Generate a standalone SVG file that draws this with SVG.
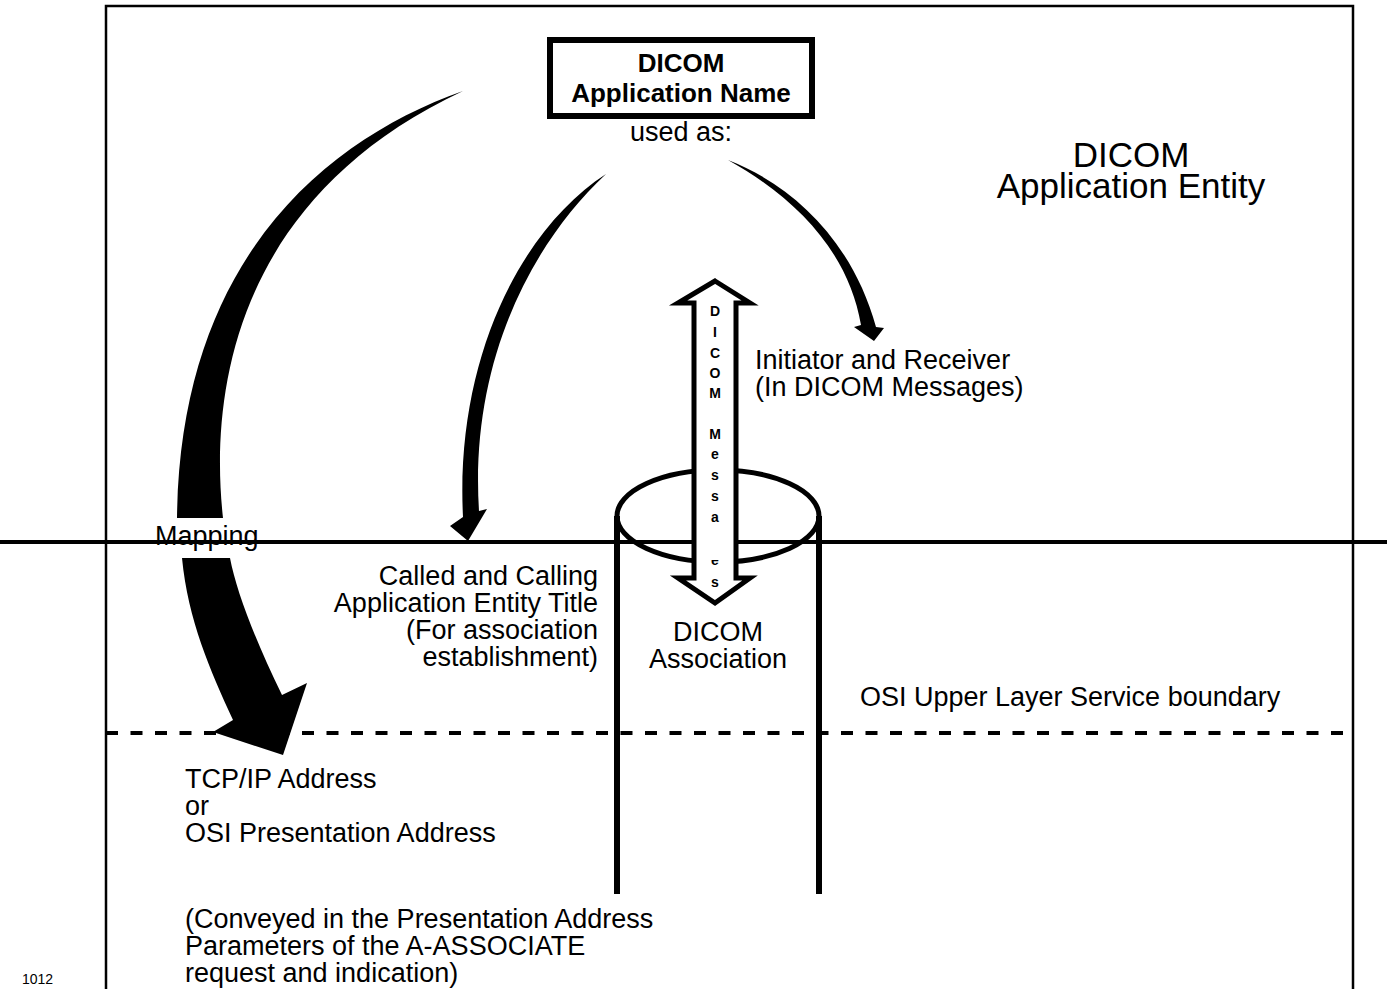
<svg xmlns="http://www.w3.org/2000/svg" width="1387" height="989" viewBox="0 0 1387 989">
<style>
text{font-family:"Liberation Sans",Arial,sans-serif;fill:#000}
.t{font-size:27px}
.b{font-size:26px;font-weight:bold}
.v{font-size:14px;font-weight:bold;text-anchor:middle}
.blk{fill:#000;stroke:none}
</style>
<rect x="0" y="0" width="1387" height="989" fill="#fff"/>
<g id="frame">
<path d="M106,989 V6 H1353 V989" fill="none" stroke="#000" stroke-width="2.5"/>
</g>
<g id="connectors">
<path id="arrow-mapping-upper" class="blk" d="M463,91 C325,140 180,260 177,518 L223,518 C210,400 230,200 463,91 Z"/>
<path id="arrow-mapping-lower" class="blk" d="M182,558 L230,558 C236,590 255,640 282,695 L307,683 L283,755 L213,732 L233,720 C210,670 188,620 182,558 Z"/>
<path id="arrow-called" class="blk" d="M606,174 C520,230 455,360 463,517 L450,526 L468,541 L487,509 L479,511 C470,370 525,250 606,174 Z"/>
<path id="arrow-initiator" class="blk" d="M728,160 C792,185 852,240 876,327 L884,328 L874,341 L854,327 L861,325 C849,255 800,200 728,160 Z"/>
</g>
<g id="boundary-dashed">
<line x1="106" y1="733" x2="1353" y2="733" stroke="#000" stroke-width="4" stroke-dasharray="12 12.5"/>
</g>
<g id="association">
<line x1="617" y1="516" x2="617" y2="894" stroke="#000" stroke-width="6"/>
<line x1="819" y1="516" x2="819" y2="894" stroke="#000" stroke-width="6"/>
<ellipse cx="718" cy="516" rx="101" ry="46" fill="none" stroke="#000" stroke-width="5"/>
</g>
<g id="mapping-label">
<rect x="168" y="519" width="75" height="38" fill="#fff"/>
<text class="t" x="155" y="545">Mapping</text>
</g>
<line id="osi-boundary-solid" x1="0" y1="542" x2="1387" y2="542" stroke="#000" stroke-width="4"/>
<g id="messages-arrow">
<polygon points="715,281 750,303 736,303 736,578 750,578 715,603 678,578 694,578 694,303 678,303" fill="#fff" stroke="#000" stroke-width="5" stroke-linejoin="miter"/>
<text class="v"><tspan x="715" y="316">D</tspan><tspan x="715" y="337">I</tspan><tspan x="715" y="358">C</tspan><tspan x="715" y="378">O</tspan><tspan x="715" y="398">M</tspan><tspan x="715" y="439">M</tspan><tspan x="715" y="459">e</tspan><tspan x="715" y="480">s</tspan><tspan x="715" y="501">s</tspan><tspan x="715" y="522">a</tspan><tspan x="715" y="543">g</tspan><tspan x="715" y="565">e</tspan><tspan x="715" y="587">s</tspan></text>
<rect x="698" y="528" width="34" height="32" fill="#fff"/>
</g>
<g id="app-name">
<rect x="550" y="40" width="262" height="76" fill="#fff" stroke="#000" stroke-width="6"/>
<text class="b" x="681" y="72" text-anchor="middle">DICOM</text>
<text class="b" x="681" y="102" text-anchor="middle">Application Name</text>
<text class="t" x="681" y="141" text-anchor="middle">used as:</text>
</g>
<g id="ae-label">
<text x="1131" y="167" text-anchor="middle" font-size="35">DICOM</text>
<text x="1131" y="198" text-anchor="middle" font-size="35">Application Entity</text>
</g>
<g id="initiator-label">
<text class="t" x="755" y="369">Initiator and Receiver</text>
<text class="t" x="755" y="396">(In DICOM Messages)</text>
</g>
<g id="called-label">
<text class="t" x="598" y="585" text-anchor="end">Called and Calling</text>
<text class="t" x="598" y="612" text-anchor="end">Application Entity Title</text>
<text class="t" x="598" y="639" text-anchor="end">(For association</text>
<text class="t" x="598" y="666" text-anchor="end">establishment)</text>
</g>
<g id="assoc-label">
<text class="t" x="718" y="641" text-anchor="middle">DICOM</text>
<text class="t" x="718" y="668" text-anchor="middle">Association</text>
</g>
<g id="osi-label">
<text class="t" x="860" y="706">OSI Upper Layer Service boundary</text>
</g>
<g id="address-label">
<text class="t" x="185" y="788">TCP/IP Address</text>
<text class="t" x="185" y="815">or</text>
<text class="t" x="185" y="842">OSI Presentation Address</text>
</g>
<g id="conveyed-label">
<text class="t" x="185" y="928">(Conveyed in the Presentation Address</text>
<text class="t" x="185" y="955">Parameters of the A-ASSOCIATE</text>
<text class="t" x="185" y="982">request and indication)</text>
</g>
<text x="22" y="984" font-size="14">1012</text>
</svg>
